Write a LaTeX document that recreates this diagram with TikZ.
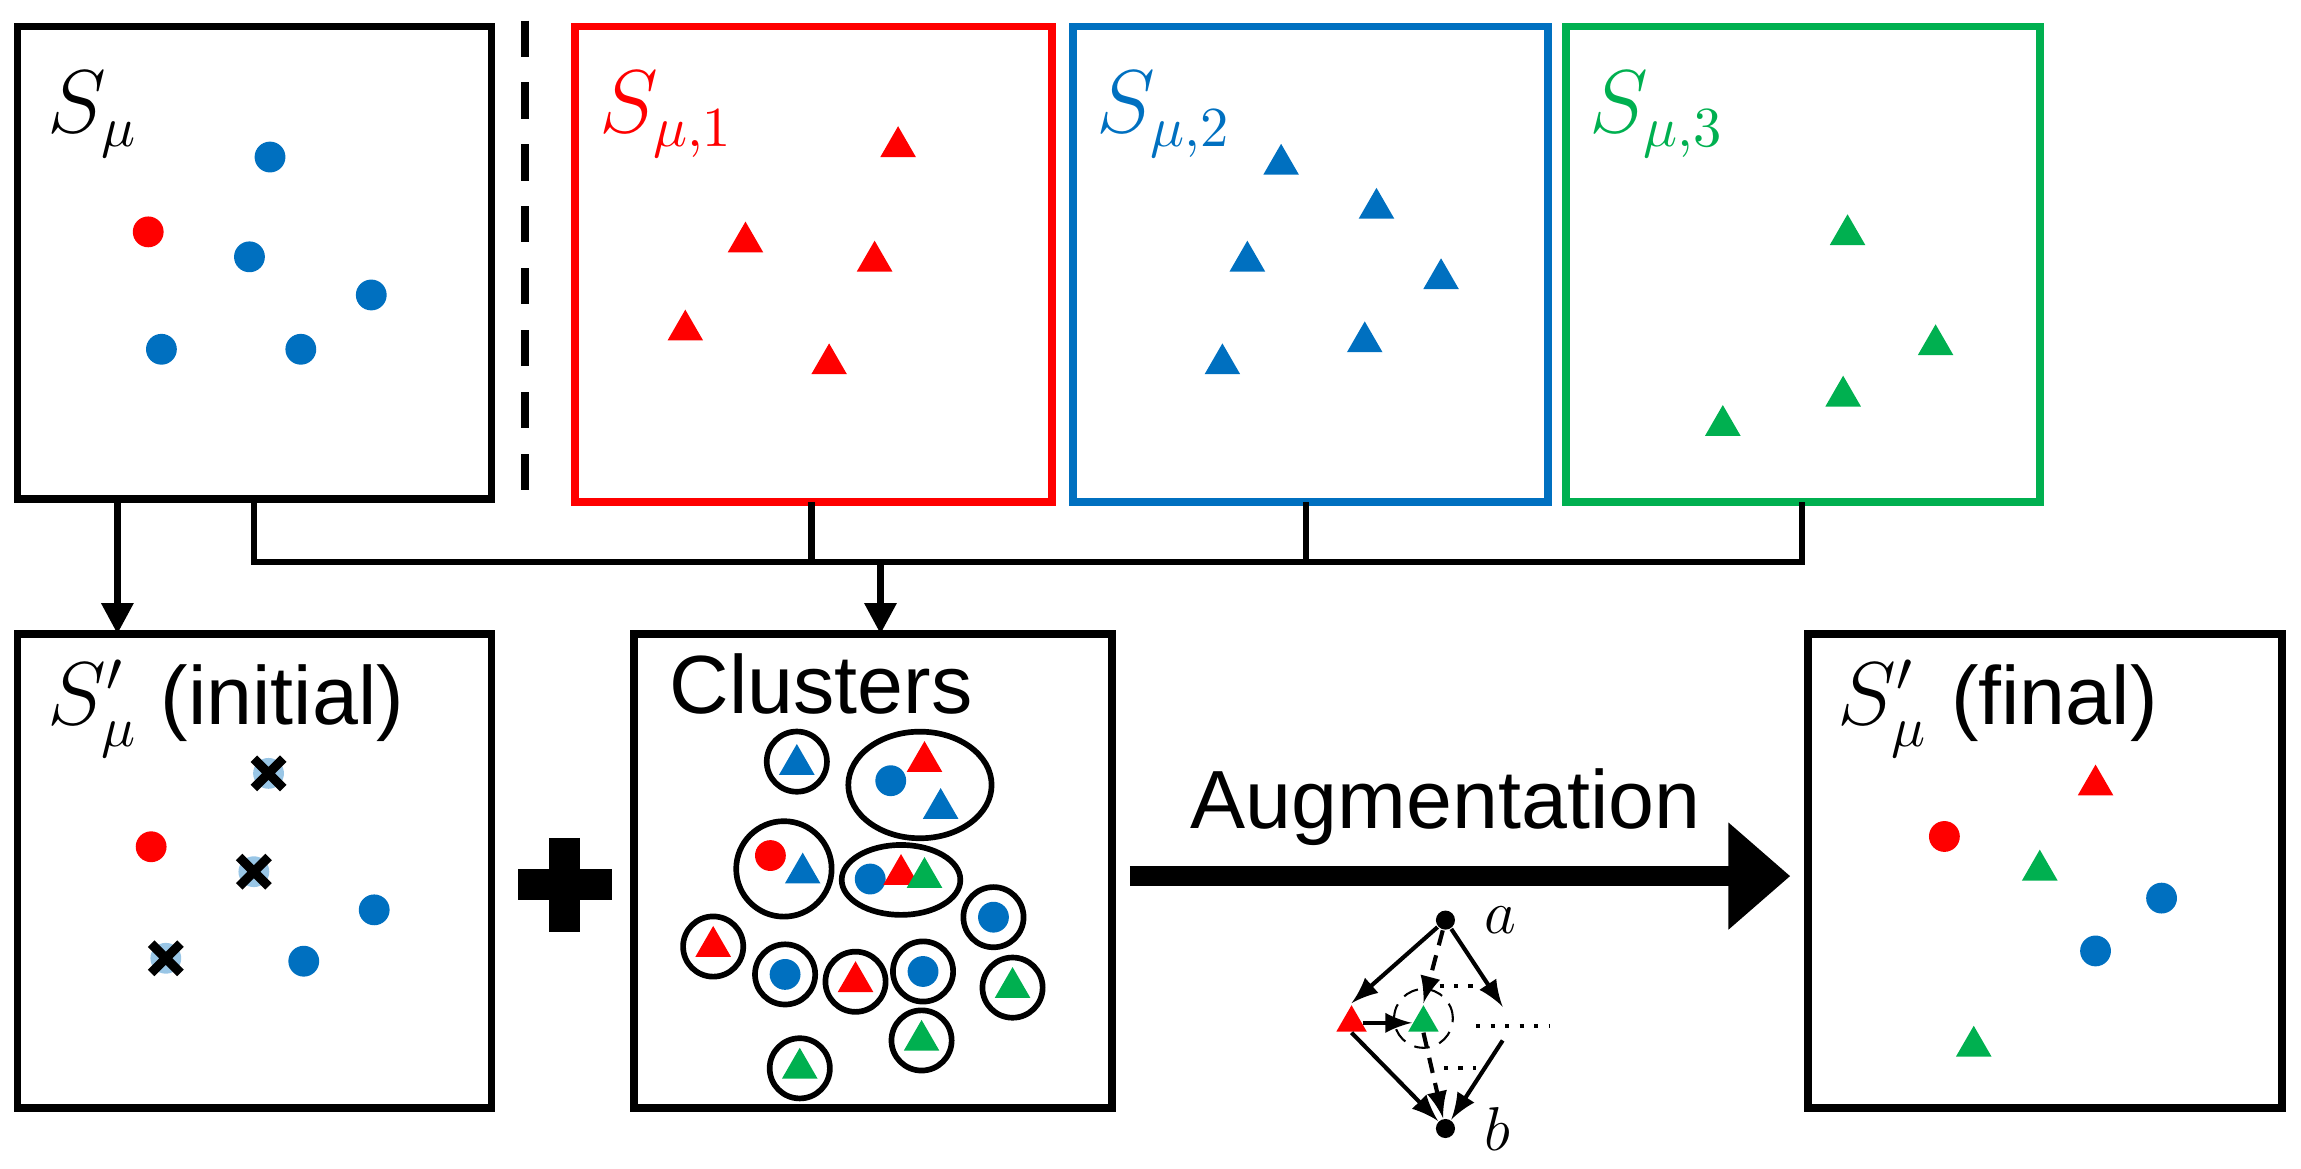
\documentclass[tikz,border=0pt]{standalone}
\usepackage{fontspec}
\setmainfont{Liberation Sans}
\usepackage{amsmath}
\usetikzlibrary{shapes,arrows,arrows.meta,positioning,calc}
\definecolor{cred}{HTML}{FF0000}
\definecolor{cblue}{HTML}{0070C0}
\definecolor{cgreen}{HTML}{00B050}
\tikzset{
  box/.style={draw, line width=1.5pt},
  dot/.style={circle, fill=#1, inner sep=0pt, minimum size=0.21cm},
  tri/.style={regular polygon, regular polygon sides=3, fill=#1, inner sep=0pt, minimum size=0.28cm},
  ring/.style={circle, draw, line width=1.1pt, minimum size=0.41cm, inner sep=0pt},
  conn/.style={line width=1.3pt},
  lbl/.style={font=\fontsize{16}{19}\selectfont, anchor=west},
  cross/.style={line width=1.8pt}
}
\begin{document}
\begin{tikzpicture}[x=0.01cm, y=-0.01cm]
\useasboundingbox (0,0) rectangle (1568,796);
% Top boxes
\draw[box] (12,18) rectangle (335,340);
\draw[box, cred] (392,18) rectangle (717,342);
\draw[box, cblue] (731,18) rectangle (1055,342);
\draw[box, cgreen] (1067,18) rectangle (1390,342);
\draw[line width=1.5pt, dash pattern=on 7pt off 5pt] (358,14) -- (358,348);
\node[lbl] (smu) at (20,78) {$S_\mu$};
\node[lbl, cred] (smu1) at (396,78) {$S_{\mu,1}$};
\node[lbl, cblue] (smu2) at (735,78) {$S_{\mu,2}$};
\node[lbl, cgreen] (smu3) at (1071,78) {$S_{\mu,3}$};
% Sample points
\foreach \p in {(184,107),(170,175),(253,201),(110,238),(205,238)} \node[dot=cblue] at \p {};
\node[dot=cred] at (101,158) {};
\foreach \p in {(612,100),(508,165),(596,178),(467,225),(565,248)} \node[tri=cred] at \p {};
\foreach \p in {(873,112),(938,142),(850,178),(982,190),(930,233),(833,248)} \node[tri=cblue] at \p {};
\foreach \p in {(1259,160),(1319,235),(1256,270),(1174,290)} \node[tri=cgreen] at \p {};

% Connectors
\coordinate (j0) at (173,340);
\coordinate (j1) at (553,342);
\coordinate (j2) at (890,342);
\coordinate (j3) at (1228,342);
\coordinate (bar0) at (173,383);
\coordinate (bar3) at (1228,383);
\coordinate (jm) at (600,383);
\draw[conn] (j0) -- (bar0) -- (bar3) -- (j3);
\draw[conn] (j1) -- (j1 |- bar0);
\draw[conn] (j2) -- (j2 |- bar0);
\coordinate (s0) at (80,340);
\coordinate (i0) at (80,432);
\coordinate (c0) at (600,432);
\draw[conn, -{Triangle[length=6pt, width=6pt]}] (s0) -- (i0);
\draw[conn, -{Triangle[length=6pt, width=6pt]}] (jm) -- (c0);

% Bottom boxes
\draw[box] (12,432) rectangle (335,755);
\draw[box] (432,432) rectangle (758,755);
\draw[box] (1232,432) rectangle (1555,755);
\node[lbl] (init) at (20,483) {$S'_\mu$ (initial)};
\node[lbl] (clu) at (444,466) {Clusters};
\node[lbl] (fin) at (1240,483) {$S'_\mu$ (final)};

% Initial set
\node[dot=cred] at (103,577) {};
\foreach \p in {(255,620),(207,655)} \node[dot=cblue] at \p {};
\foreach \p in {(183,527),(173,594),(113,653)} {
  \node[dot=cblue!40] at \p {};
  \draw[cross] \p ++(-10,-10) -- ++(20,20) \p ++(-10,10) -- ++(20,-20);
}
% Plus
\coordinate (plus) at (385,603);
\draw[line width=6pt] (plus) ++(-32,0) -- ++(64,0);
\draw[line width=6pt] (plus) ++(0,-32) -- ++(0,64);

% Clusters
\draw[line width=1.1pt] (626.9,534.9) ellipse (0.488cm and 0.363cm);
\draw[line width=1.1pt] (534.2,592.1) circle (0.325cm);
\draw[line width=1.1pt] (614,599.6) ellipse (0.404cm and 0.238cm);
\node[tri=cblue] at (543,521) {};
\node[ring] at (543,519) {};
\node[dot=cblue] at (607,532) {};
\node[tri=cred] at (630,519) {};
\node[tri=cblue] at (641,551) {};
\node[dot=cred] at (525,583) {};
\node[tri=cblue] at (547,595) {};
\node[dot=cblue] at (593,599) {};
\node[tri=cred] at (614,596) {};
\node[tri=cgreen] at (630,598) {};
\foreach \p/\c in {(677,625)/cblue,(535,664)/cblue,(629,662)/cblue} {
  \node[dot=\c] at \p {};
  \node[ring] at \p {};
}
\foreach \p/\c in {(486,645)/cred,(583,669)/cred,(690,673)/cgreen,(628,709)/cgreen,(545,728)/cgreen} {
  \node[tri=\c] at \p {};
  \node[ring] at \p {};
}

% Final set
\node[tri=cred] at (1428,535) {};
\node[dot=cred] at (1325,570) {};
\node[tri=cgreen] at (1390,593) {};
\node[dot=cblue] at (1473,612) {};
\node[dot=cblue] at (1428,648) {};
\node[tri=cgreen] at (1345,713) {};

% Augmentation arrow
\coordinate (aug0) at (770,597);
\coordinate (aug1) at (1220,597);
\draw[line width=4pt, -{Triangle[length=12pt, width=20pt]}] (aug0) -- (aug1);
\node[font=\fontsize{16}{19}\selectfont] (augl) at (985,550) {Augmentation};

% Augmentation sketch
\node[dot=black, minimum size=0.13cm] (a) at (985,627) {};
\node[dot=black, minimum size=0.13cm] (b) at (985,769) {};
\node[anchor=west, font=\large\itshape] at (a.east) {\,$a$};
\node[anchor=west, font=\large\itshape] at (b.east) {\,$b$};
\node[tri=cred, minimum size=0.24cm] (rt) at (921,697) {};
\node[tri=cgreen, minimum size=0.24cm] (gt) at (970,697) {};
\node[circle, draw, densely dashed, minimum size=0.4cm, inner sep=0pt] (gc) at (970,694) {};
\coordinate (rp) at (1024,686);
\coordinate (rq) at (1024,709);
\draw[-latex, thick] (a) -- (rt.north);
\draw[-latex, thick] (a) -- (rp);
\draw[-latex, thick] (rt.south) -- (b);
\draw[-latex, thick] (rq) -- (b);
\draw[-latex, thick] (rt.east) -- (gt.west);
\draw[-latex, thick, densely dashed] (a) -- (gt.north);
\draw[-latex, thick, densely dashed] (gt.south) -- (b);
\draw[thick, dotted] (981,672) -- (1004,672);
\draw[thick, dotted] (1006,699) -- (1056,699);
\draw[thick, dotted] (984,728) -- (1006,728);
\end{tikzpicture}
\end{document}
